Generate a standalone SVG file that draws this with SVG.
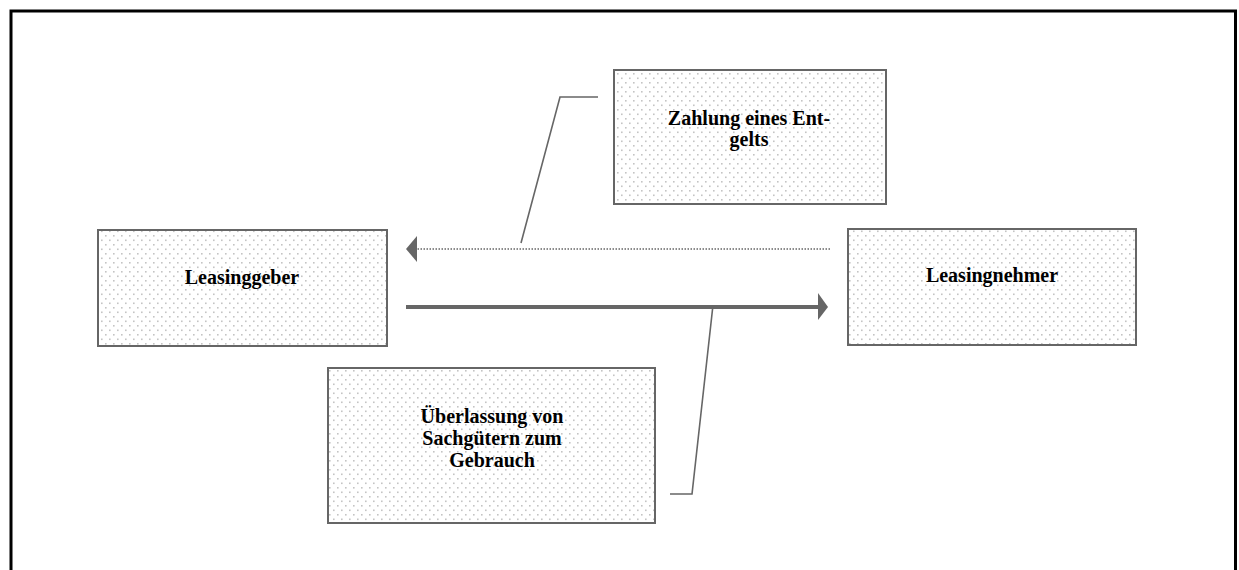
<svg xmlns="http://www.w3.org/2000/svg" width="1239" height="570" viewBox="0 0 1239 570">
<defs>
<pattern id="dots" width="8" height="9" patternUnits="userSpaceOnUse">
<rect x="1" y="1" width="1.6" height="1.6" fill="#c4c4c4"/>
<rect x="5" y="5.5" width="1.6" height="1.6" fill="#c4c4c4"/>
</pattern>
</defs>
<style>
.box{fill:url(#dots);stroke:#666;stroke-width:2}
.lbl{font-family:"Liberation Serif","Times New Roman",serif;font-weight:bold;font-size:20px;fill:#000;text-anchor:middle}
.call{fill:none;stroke:#666;stroke-width:1.6}
</style>
<rect width="1239" height="570" fill="#fff"/>
<path d="M11,572 V11 H1235.5 V572" fill="none" stroke="#000" stroke-width="3"/>
<g id="leasinggeber">
<rect class="box" x="98" y="230" width="289" height="116"/>
<text class="lbl" x="242" y="284">Leasinggeber</text>
</g>
<g id="leasingnehmer">
<rect class="box" x="848" y="229" width="288" height="116"/>
<text class="lbl" x="992" y="282">Leasingnehmer</text>
</g>
<g id="zahlung">
<rect class="box" x="614" y="70" width="272" height="134"/>
<text class="lbl" x="749" y="125">Zahlung eines Ent-</text>
<text class="lbl" x="749" y="146">gelts</text>
</g>
<g id="ueberlassung">
<rect class="box" x="328" y="368" width="327" height="155"/>
<text class="lbl" x="492" y="423">Überlassung von</text>
<text class="lbl" x="492" y="445">Sachgütern zum</text>
<text class="lbl" x="492" y="467">Gebrauch</text>
</g>
<g id="connectors">
<line x1="830" y1="249" x2="414" y2="249" stroke="#666" stroke-width="1.5" stroke-dasharray="1.5 1.5"/>
<polygon points="406,249 417,236 417,262" fill="#666"/>
<line x1="406" y1="307" x2="819" y2="307" stroke="#666" stroke-width="4"/>
<polygon points="828,307 818,293 818,320" fill="#666"/>
<polyline class="call" points="598,97 560,97 521,243"/>
<polyline class="call" points="670,494 692,494 713,305"/>
</g>
</svg>
